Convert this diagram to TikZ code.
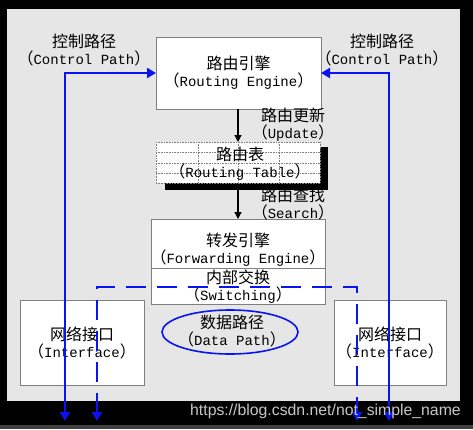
\documentclass[tikz,border=0pt]{standalone}
\usepackage{fontspec}
\setmainfont{Liberation Mono}
\newfontfamily\cjk{Noto Sans CJK SC}
\newfontfamily\wmfont{Liberation Sans}
\usetikzlibrary{arrows.meta,shapes.geometric}
\newcommand{\zh}[1]{{\cjk\fontsize{16pt}{17pt}\selectfont #1}}
\newcommand{\en}[1]{{\fontsize{14pt}{17pt}\selectfont #1}}
\definecolor{bggray}{HTML}{E6E6E6}
\definecolor{boxline}{HTML}{7F7F7F}
\definecolor{pathblue}{HTML}{0A14F0}
\begin{document}
\begin{tikzpicture}[x=1pt,y=-1pt,
  lbl/.style={align=center,font=\fontsize{14pt}{17pt}\selectfont,inner sep=0pt},
  whitebox/.style={draw=boxline,fill=white,line width=0.8pt},
  ctrl/.style={draw=pathblue,line width=2.8pt,{Triangle[width=10pt,length=9pt]}-{Triangle[width=10pt,length=9pt]}},
  datapath/.style={draw=pathblue,line width=2.8pt,dash pattern=on 20pt off 11pt,{Triangle[width=10pt,length=9pt]}-{Triangle[width=10pt,length=9pt]}},
  blackarr/.style={draw=black,line width=1.2pt,-{Triangle[width=7pt,length=7pt]}},
  grid/.style={draw=gray,line width=0.6pt,densely dotted}]
\useasboundingbox (0,0) rectangle (473,429);
\fill[black] (0,0) rectangle (473,429);
\fill[bggray] (7,9) rectangle (460,401);
\fill[black!75] (0,425) rectangle (473,429);

% routing engine
\draw[whitebox] (156,37) rectangle (321,109);
\node[lbl] (re) at (238.5,73) {\zh{路由引擎}\\\zh{（}\en{Routing Engine}\zh{）}};
\coordinate (reTop) at (238,109);

% routing table with shadow
\fill[black] (165,147) rectangle (328,190);
\fill[white] (156,142) rectangle (320,183);
\foreach \yy in {142,152,163,173,183} \draw[grid] (156,\yy) -- (320,\yy);
\foreach \xx in {156,198,238,279,320} \draw[grid] (\xx,142) -- (\xx,183);
\node[lbl] (rt) at (240,163.5) {\zh{路由表}\\\zh{（}\en{Routing Table}\zh{）}};
\coordinate (rtTop) at (238,142);
\coordinate (rtBot) at (238,190);

% forwarding engine
\draw[whitebox] (151,219) rectangle (325,304);
\draw[boxline,line width=0.8pt] (151,268) -- (325,268);
\coordinate (feTop) at (238,219);
\node[lbl] (fe) at (238,249.5) {\zh{转发引擎}\\\zh{（}\en{Forwarding Engine}\zh{）}};
\node[lbl] (sw) at (238,286.5) {\zh{内部交换}\\\zh{（}\en{Switching}\zh{）}};

% interfaces
\draw[whitebox] (20,300) rectangle (144,385);
\node[lbl] (ifl) at (82,342.5) {\zh{网络接口}\\\zh{（}\en{Interface}\zh{）}};
\draw[whitebox] (334,300) rectangle (446,385);
\node[lbl] (ifr) at (390,342.5) {\zh{网络接口}\\\zh{（}\en{Interface}\zh{）}};

% data path ellipse
\node[ellipse,draw=pathblue,line width=1.6pt,minimum width=136pt,minimum height=44pt,inner sep=0pt] (dpe) at (230,332) {};
\node[lbl] (dp) at (232,331.5) {\zh{数据路径}\\\zh{（}\en{Data Path}\zh{）}};

% labels
\node[lbl] (cpl) at (84,50.5) {\zh{控制路径}\\\zh{（}\en{Control Path}\zh{）}};
\node[lbl] (cpr) at (382,50.5) {\zh{控制路径}\\\zh{（}\en{Control Path}\zh{）}};
\node[lbl] (upd) at (293,125) {\zh{路由更新}\\\zh{（}\en{Update}\zh{）}};
\node[lbl] (srch) at (293,204) {\zh{路由查找}\\\zh{（}\en{Search}\zh{）}};

% black arrows
\draw[blackarr] (reTop) -- (rtTop);
\draw[blackarr] (rtBot) -- (feTop);

% control paths
\coordinate (reL) at (156,73);
\coordinate (reR) at (321,73);
\coordinate (cl) at (65,73);
\coordinate (cr) at (389,73);
\coordinate (clB) at (65,421);
\coordinate (crB) at (389,421);
\draw[ctrl] (clB) -- (cl) -- (reL);
\draw[ctrl] (crB) -- (cr) -- (reR);

% data path
\coordinate (dl) at (97,287);
\coordinate (dr) at (357,287);
\coordinate (dlB) at (97,421);
\coordinate (drB) at (357,421);
\draw[datapath] (dlB) -- (dl) -- (dr) -- (drB);

% watermark
\node[anchor=west,inner sep=0pt,text=black!22,font=\wmfont\fontsize{15.8pt}{17pt}\selectfont] (wm) at (190,411) {https://blog.csdn.net/not\_simple\_name};
\end{tikzpicture}
\end{document}
